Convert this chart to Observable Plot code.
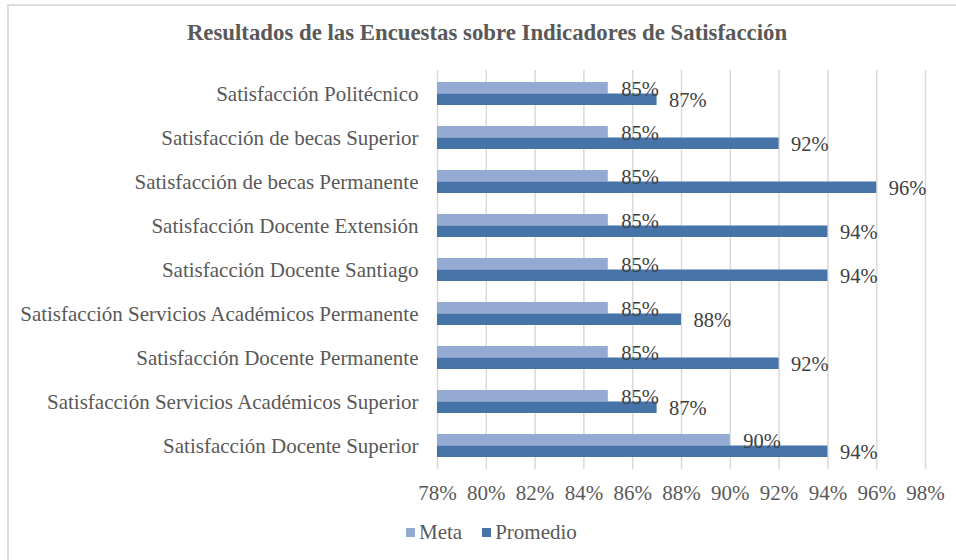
<!DOCTYPE html>
<html>
<head>
<meta charset="utf-8">
<script src="https://cdn.jsdelivr.net/npm/d3@7"></script>
<script src="https://cdn.jsdelivr.net/npm/@observablehq/plot@0.6"></script>
<style>
  html, body { margin: 0; padding: 0; background: #fff; overflow: hidden; }
  #wrap { position: relative; width: 956px; height: 560px; font-family: "Liberation Serif", "Times New Roman", serif; }
  #frame { position: absolute; left: 7px; top: 4px; width: 1000px; height: 600px; border-left: 2px solid #dcdcdc; border-top: 2px solid #dcdcdc; }
  #title { position: absolute; left: 0; top: 20px; width: 974px; text-align: center; font-weight: bold; font-size: 22.8px; color: #595959; }
  #chart { position: absolute; left: 0; top: 60px; }
  #legend { position: absolute; left: 406px; top: 520px; display: flex; align-items: center; font-size: 21px; color: #595959; }
  .sw { width: 9px; height: 9px; display: inline-block; margin-right: 4px; }
  .item { display: flex; align-items: center; margin-right: 20px; }
</style>
</head>
<body>
<div id="wrap">
  <div id="frame"></div>
  <div id="title">Resultados de las Encuestas sobre Indicadores de Satisfacción</div>
  <div id="chart"></div>
  <div id="legend"></div>
</div>
<script>
const categories = [
  "Satisfacción Politécnico",
  "Satisfacción de becas Superior",
  "Satisfacción de becas Permanente",
  "Satisfacción Docente Extensión",
  "Satisfacción Docente Santiago",
  "Satisfacción Servicios Académicos Permanente",
  "Satisfacción Docente Permanente",
  "Satisfacción Servicios Académicos Superior",
  "Satisfacción Docente Superior"
];
const meta =     [85, 85, 85, 85, 85, 85, 85, 85, 90];
const promedio = [87, 92, 96, 94, 94, 88, 92, 87, 94];
const xTicks = [78, 80, 82, 84, 86, 88, 90, 92, 94, 96, 98];
const seriesNames = ["Meta", "Promedio"];
const colors = ["#95aad3", "#4673a8"];

const metaRows = categories.map((c, i) => ({category: c, value: meta[i]}));
const promRows = categories.map((c, i) => ({category: c, value: promedio[i]}));

const half = 11.5;
const fmt = d => d + "%";

const chart = Plot.plot({
  width: 956,
  height: 460,
  marginLeft: 437,
  marginRight: 31,
  marginTop: 10,
  marginBottom: 51,
  style: {fontFamily: '"Liberation Serif", "Times New Roman", serif', background: "transparent"},
  x: {domain: [78, 98]},
  y: {domain: categories, paddingInner: 0.48, paddingOuter: 0.24},
  marks: [
    Plot.ruleX(xTicks, {stroke: "#d9d9d9", strokeWidth: 1.5}),
    Plot.barX(metaRows, {y: "category", x1: 78, x2: "value", fill: colors[0], insetBottom: half}),
    Plot.barX(promRows, {y: "category", x1: 78, x2: "value", fill: colors[1], insetTop: half}),
    Plot.text(metaRows, {y: "category", x: "value", text: d => fmt(d.value), textAnchor: "start", dx: 13, dy: -half / 2 + 1, fontSize: 20.5, fill: "#404040"}),
    Plot.text(promRows, {y: "category", x: "value", text: d => fmt(d.value), textAnchor: "start", dx: 12, dy: half / 2 + 1, fontSize: 20.5, fill: "#404040"}),
    Plot.axisY({tickSize: 0, tickPadding: 19, fontSize: 21, color: "#595959", label: null}),
    Plot.axisX(xTicks, {tickSize: 0, tickPadding: 16, fontSize: 21, color: "#595959", tickFormat: fmt, label: null})
  ]
});
document.getElementById("chart").appendChild(chart);

const legend = document.getElementById("legend");
seriesNames.forEach((name, i) => {
  const item = document.createElement("div");
  item.className = "item";
  const sw = document.createElement("span");
  sw.className = "sw";
  sw.style.background = colors[i];
  const t = document.createElement("span");
  t.textContent = name;
  item.appendChild(sw);
  item.appendChild(t);
  legend.appendChild(item);
});
</script>
</body>
</html>
